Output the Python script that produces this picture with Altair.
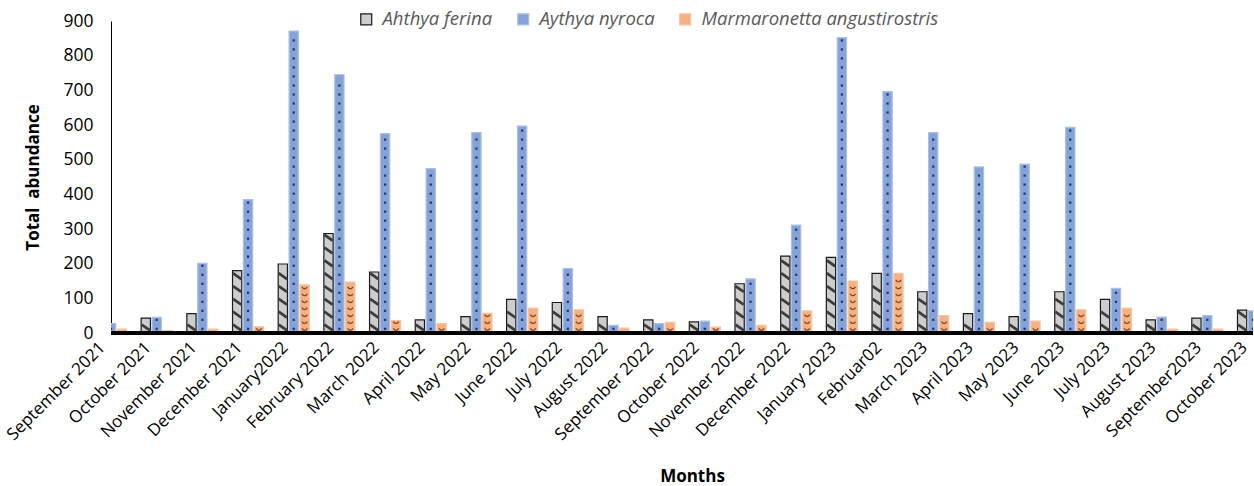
import altair as alt
import pandas as pd

# Monthly survey counts of three duck species
months = [
    "September 2021", "October 2021", "November 2021", "December 2021",
    "January2022", "February 2022", "March 2022", "April 2022", "May 2022",
    "June 2022", "July 2022", "August 2022", "September 2022", "October 2022",
    "November 2022", "December 2022", "January 2023", "Februar02", "March 2023",
    "April 2023", "May 2023", "June 2023", "July 2023", "August 2023",
    "September2023", "October 2023",
]
species = ["Ahthya ferina", "Aythya nyroca", "Marmaronetta angustirostris"]

ferina = [8, 43, 56, 180, 199, 287, 176, 38, 47, 97, 88, 47, 38, 32, 142, 222,
          218, 172, 119, 56, 47, 119, 97, 38, 43, 66]
nyroca = [27, 45, 201, 385, 871, 745, 575, 474, 578, 597, 186, 22, 27, 34, 156,
          311, 852, 696, 578, 479, 487, 593, 129, 46, 50, 64]
marmaronetta = [11, 7, 11, 18, 139, 147, 36, 27, 57, 72, 67, 14, 31, 17, 22, 64,
                150, 172, 50, 31, 34, 67, 72, 11, 11, 5]

rows = []
for name, series in zip(species, [ferina, nyroca, marmaronetta]):
    for m, v in zip(months, series):
        rows.append({"month": m, "species": name, "value": v})
df = pd.DataFrame(rows)

FONT = "Open Sans"
W, H = 1142, 312
step = W / (len(months) - 1)  # first and last month sit on the plot edges

x_enc = alt.X(
    "month:N",
    sort=months,
    scale=alt.Scale(domain=months, range=[-step / 2, W + step / 2],
                    paddingInner=0.32, paddingOuter=0.16),
    axis=alt.Axis(
        title="Months", labelAngle=-45, labelAlign="right", labelBaseline="bottom",
        labelPadding=18, labelOffset=-2, labelFont=FONT, labelFontSize=17,
        labelColor="#000000", labelOverlap=False, labelLimit=0, ticks=False, domain=False,
        titleFont=FONT, titleFontSize=17, titleFontWeight="bold", titleColor="#000000",
        titleX=W / 2 + 10, titleY=143, titleBaseline="middle",
    ),
)
xo_enc = alt.XOffset("species:N", scale=alt.Scale(domain=species, paddingInner=0.15, paddingOuter=0))
y_scale = alt.Scale(domain=[0, 900], nice=False)
y_axis = alt.Axis(
    title="Total\u00a0 abundance", values=list(range(0, 901, 100)), grid=False, ticks=False,
    domain=True, domainColor="#000000", domainWidth=1, labelPadding=18,
    labelOverlap=False, labelFlush=False,
    labelFont=FONT, labelFontSize=17.5, labelColor="#000000",
    titleFont=FONT, titleFontSize=17, titleFontWeight="bold", titleColor="#000000",
    titleX=-78, titleY=H / 2, titleBaseline="middle",
)

legend = alt.Legend(
    title=None, orient="none", legendX=246, legendY=-11, direction="horizontal",
    labelFont=FONT, labelFontSize=18.5, labelFontStyle="italic", labelColor="#595959",
    labelLimit=0, symbolType="square", symbolSize=120, symbolStrokeWidth=1.2,
    labelOffset=7, columnPadding=21,
)

bars = alt.Chart(df).mark_bar(clip=True, strokeWidth=1.2).encode(
    x=x_enc,
    xOffset=xo_enc,
    y=alt.Y("value:Q", scale=y_scale, axis=y_axis),
    fill=alt.Fill("species:N", scale=alt.Scale(domain=species, range=["#cdcdcd", "#86a3d9", "#f5b084"]),
                  legend=legend),
    stroke=alt.Stroke("species:N", scale=alt.Scale(domain=species, range=["#1a1a1a", "#a9bfe6", "#f7c29c"]),
                      legend=legend),
)

def pattern(name, start, spacing, shape, size, width, color, filled=False):
    mark = alt.Chart(df).transform_filter(
        alt.datum.species == name
    ).transform_calculate(
        ys=f"sequence({start}, datum.value - {start} / 2, {spacing})"
    ).transform_flatten(["ys"])
    if filled:
        m = mark.mark_square(clip=True, size=size, color=color, opacity=1)
    else:
        m = mark.mark_point(clip=True, shape=shape, size=size, filled=False,
                            strokeWidth=width, color=color, opacity=1)
    return m.encode(
        x=x_enc,
        xOffset=xo_enc,
        y=alt.Y("ys:Q", scale=y_scale, axis=y_axis),
    )

# hatching drawn over each bar: downward diagonal bands, dots and small waves
stripes = pattern(species[0], 16, 37, "M -1 -0.7 L 1 0.7", 70, 2.8, "#3c3c3c")
dots = pattern(species[1], 12, 26, None, 5, 0, "#1f3864", filled=True)
waves = pattern(species[2], 10, 20, "M -1 -0.4 Q 0 1 1 -0.4", 30, 1.3, "#8a4a1c")

baseline = alt.Chart(df).mark_rule(color="#000000", strokeWidth=3).encode(
    y=alt.YDatum(0, scale=y_scale, axis=y_axis)
)

chart = alt.layer(bars, stripes, dots, waves, baseline).properties(
    width=W, height=H,
    padding={"left": 111, "top": 21, "right": 1, "bottom": 153},
    autosize="none",
).configure_view(strokeWidth=0)

chart.save("out.html", embed_options={"renderer": "svg", "actions": False})
